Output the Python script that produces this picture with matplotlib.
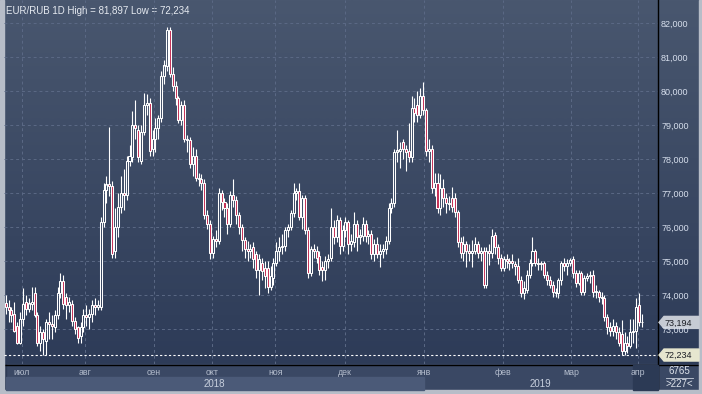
import numpy as np
import matplotlib
matplotlib.use("Agg")
import matplotlib.pyplot as plt
from matplotlib.patches import Rectangle, Polygon
from matplotlib.colors import LinearSegmentedColormap
import matplotlib.transforms as mtransforms

plt.rcParams['font.family'] = ['Liberation Sans', 'DejaVu Sans']

# ---- данные: дневные свечи EUR/RUB (июль 2018 - апрель 2019), по картинке ----
opens = [73.75, 73.65, 73.55, 73.45, 73.1, 72.6, 73.3, 73.8, 73.6, 73.75,
         74.05, 73.4, 72.6, 72.9, 72.65, 73.2, 73.15, 73.05, 73.4, 74.05,
         74.4, 73.95, 73.7, 73.75, 73.25, 73.05, 72.8, 73.05, 73.4, 73.35,
         73.45, 73.7, 73.65, 73.65, 76.15, 77.1, 77.25, 77.2, 75.3, 76.0,
         76.6, 77.0, 76.95, 77.95, 78.05, 79.0, 78.85, 77.95, 78.8, 79.6,
         79.65, 78.3, 78.6, 78.9, 79.2, 80.45, 80.75, 81.8, 80.5, 80.15,
         79.8, 79.15, 79.6, 78.6, 78.55, 77.85, 78.1, 77.45, 77.4, 77.3,
         76.35, 76.1, 75.25, 75.65, 75.6, 77.0, 76.75, 76.55, 76.1, 76.95,
         76.8, 76.35, 76.0, 75.62, 75.35, 75.3, 75.4, 75.2, 74.75, 74.95,
         74.8, 74.8, 74.25, 74.5, 74.95, 75.3, 75.4, 75.45, 75.9, 76.0,
         76.4, 77.0, 77.05, 76.3, 76.85, 75.9, 74.65, 75.35, 75.3, 75.15,
         74.82, 74.75, 75.0, 75.1, 76.0, 75.7, 76.2, 75.45, 75.9, 76.15,
         75.5, 75.55, 76.1, 75.7, 75.75, 76.1, 75.75, 75.8, 75.2, 75.5,
         75.2, 75.3, 75.35, 75.6, 76.55, 76.7, 78.2, 78.25, 78.5, 78.3,
         78.25, 78.05, 79.5, 79.6, 79.3, 79.85, 79.45, 78.25, 78.3, 77.15,
         77.3, 76.55, 77.15, 76.85, 76.7, 76.85, 76.85, 76.45, 75.55, 75.25,
         75.5, 75.3, 75.25, 75.3, 75.5, 75.25, 75.3, 74.3, 75.3, 75.25,
         75.75, 75.4, 75.1, 74.8, 75.05, 75.0, 75.0, 74.9, 74.85, 74.45,
         74.05, 74.15, 74.6, 74.95, 75.3, 74.95, 74.9, 74.95, 74.6, 74.45,
         74.3, 74.1, 74.05, 74.45, 74.95, 74.85, 74.95, 75.05, 74.65, 74.35,
         74.65, 74.1, 74.5, 74.55, 74.6, 74.1, 74.1, 73.95, 73.9, 73.35,
         73.05, 72.95, 73.1, 72.9, 72.85, 72.35, 72.6, 72.5, 72.9, 72.95,
         73.7, 73.2]
highs = [74.0, 73.85, 73.65, 73.8, 73.2, 73.5, 74.2, 74.0, 73.9, 74.25,
         74.25, 73.5, 73.1, 73.0, 73.3, 73.5, 73.4, 73.55, 74.25, 74.65,
         74.6, 74.05, 73.95, 73.85, 73.35, 73.1, 73.2, 73.6, 73.7, 73.6,
         73.85, 73.9, 73.85, 76.3, 77.3, 77.5, 78.95, 77.35, 76.55, 77.0,
         77.5, 77.7, 78.1, 78.4, 79.4, 79.75, 79.0, 79.0, 79.95, 79.9,
         79.8, 78.85, 79.2, 79.3, 80.6, 80.9, 81.897, 81.89, 80.7, 80.3,
         79.85, 79.7, 79.75, 78.7, 78.65, 78.35, 78.3, 77.6, 77.55, 77.4,
         76.5, 76.2, 75.75, 75.9, 77.15, 77.1, 76.85, 76.7, 77.05, 77.4,
         76.9, 76.45, 76.1, 75.7, 75.6, 75.5, 75.55, 75.3, 75.2, 75.1,
         75.0, 75.0, 74.85, 75.1, 75.55, 75.7, 75.8, 76.0, 76.1, 76.5,
         77.3, 77.15, 77.3, 76.95, 76.95, 76.0, 75.45, 75.5, 75.45, 75.3,
         75.0, 75.15, 75.2, 76.55, 76.2, 76.35, 76.3, 76.05, 76.3, 76.2,
         75.8, 76.45, 76.2, 75.95, 76.3, 76.2, 75.9, 75.9, 75.65, 75.7,
         75.5, 75.5, 75.75, 76.7, 76.85, 78.3, 78.85, 78.5, 78.6, 78.4,
         79.05, 79.85, 79.8, 80.0, 80.1, 80.26, 79.5, 78.6, 78.4, 77.6,
         77.6, 77.55, 77.4, 77.0, 76.9, 77.18, 77.0, 76.5, 75.7, 75.75,
         75.6, 75.5, 75.62, 75.7, 75.6, 75.4, 75.4, 75.4, 75.5, 75.95,
         75.85, 75.5, 75.2, 75.15, 75.2, 75.1, 75.2, 75.0, 75.1, 74.55,
         74.4, 74.75, 75.05, 75.7, 75.35, 75.1, 75.0, 75.0, 74.7, 74.55,
         74.4, 74.2, 74.5, 75.0, 75.1, 75.05, 75.1, 75.15, 74.75, 74.75,
         74.7, 74.6, 74.65, 74.7, 74.75, 74.3, 74.15, 74.1, 74.0, 73.45,
         73.2, 73.3, 73.2, 73.05, 73.26, 72.9, 72.8, 73.3, 73.3, 73.9,
         74.06, 73.45]
lows = [73.45, 73.2, 73.2, 72.9, 72.55, 72.55, 73.1, 73.4, 73.5, 73.55,
        73.35, 72.5, 72.35, 72.25, 72.234, 72.7, 72.7, 72.9, 73.3, 73.9,
        73.6, 73.3, 73.5, 73.1, 72.85, 72.6, 72.6, 72.9, 73.1, 73.0,
        73.2, 73.4, 73.55, 73.55, 76.0, 76.7, 76.9, 75.1, 75.1, 75.7,
        76.4, 76.5, 76.8, 77.8, 77.9, 78.6, 77.9, 77.85, 78.7, 79.3,
        78.1, 78.1, 78.2, 78.6, 79.1, 80.2, 80.6, 80.4, 80.0, 79.6,
        79.05, 79.0, 78.5, 78.2, 77.75, 77.5, 77.35, 77.2, 77.1, 76.25,
        75.95, 75.05, 75.1, 75.4, 75.5, 76.5, 76.3, 75.8, 76.0, 76.6,
        76.1, 75.8, 75.3, 75.1, 75.0, 75.1, 74.8, 74.5, 74.0, 74.45,
        74.2, 74.05, 74.15, 74.3, 74.85, 75.0, 75.2, 75.3, 75.7, 75.9,
        76.3, 76.8, 76.2, 75.95, 75.8, 74.5, 74.55, 75.1, 74.95, 74.6,
        74.4, 74.45, 74.8, 75.0, 75.5, 75.55, 75.2, 75.3, 75.7, 75.2,
        75.3, 75.4, 75.3, 75.5, 75.6, 75.55, 75.5, 75.05, 75.0, 75.1,
        74.82, 75.1, 75.2, 75.5, 76.4, 76.6, 77.9, 77.75, 78.0, 77.65,
        77.9, 77.9, 79.1, 79.1, 79.2, 79.3, 78.1, 77.9, 77.0, 76.9,
        76.4, 76.35, 76.6, 76.4, 76.5, 76.45, 76.3, 75.4, 75.1, 75.0,
        74.82, 75.0, 74.82, 75.2, 75.1, 75.0, 74.2, 74.2, 74.88, 75.1,
        75.2, 74.9, 74.7, 74.7, 74.8, 74.75, 74.8, 74.6, 74.35, 73.95,
        73.88, 74.05, 74.5, 74.85, 74.85, 74.75, 74.75, 74.5, 74.3, 74.2,
        73.95, 73.95, 73.9, 74.3, 74.7, 74.6, 74.85, 74.5, 74.25, 74.3,
        74.0, 74.0, 74.4, 74.35, 73.95, 73.9, 73.8, 73.75, 73.25, 72.85,
        72.8, 72.8, 72.7, 72.5, 72.23, 72.25, 72.3, 72.45, 72.6, 72.44,
        73.1, 73.05]
closes = [73.65, 73.55, 73.4, 72.95, 72.6, 73.3, 73.75, 73.6, 73.75, 73.8,
          73.4, 72.6, 72.9, 72.7, 73.2, 73.15, 73.1, 73.4, 74.05, 74.4,
          73.75, 73.7, 73.8, 73.25, 73.0, 72.75, 73.05, 73.4, 73.35, 73.45,
          73.7, 73.65, 73.7, 76.15, 77.1, 77.25, 77.2, 75.2, 76.0, 76.6,
          77.0, 76.95, 77.95, 78.1, 79.0, 78.9, 78.05, 78.8, 79.6, 79.65,
          78.25, 78.6, 78.9, 79.2, 80.45, 80.75, 81.8, 80.5, 80.15, 79.8,
          79.15, 79.6, 78.6, 78.55, 77.85, 78.1, 77.45, 77.4, 77.3, 76.35,
          76.1, 75.25, 75.65, 75.6, 77.0, 76.75, 76.55, 76.1, 76.95, 76.8,
          76.35, 76.0, 75.62, 75.35, 75.3, 75.35, 75.05, 74.75, 75.05, 74.7,
          74.55, 74.25, 74.55, 74.95, 75.3, 75.4, 75.45, 75.9, 76.0, 76.4,
          77.0, 77.05, 76.3, 76.85, 75.9, 74.65, 75.35, 75.3, 75.1, 74.75,
          74.74, 75.0, 75.05, 76.0, 75.7, 76.2, 75.45, 75.9, 76.15, 75.5,
          75.6, 76.1, 75.7, 75.75, 76.1, 75.75, 75.8, 75.2, 75.5, 75.2,
          75.3, 75.35, 75.6, 76.55, 76.7, 78.2, 78.25, 78.3, 78.3, 78.2,
          78.05, 79.5, 79.35, 79.3, 79.85, 79.45, 78.25, 78.3, 77.15, 77.3,
          76.55, 77.15, 76.85, 76.7, 76.68, 76.6, 76.45, 75.55, 75.25, 75.5,
          75.3, 75.25, 75.3, 75.5, 75.25, 75.3, 74.3, 75.3, 75.25, 75.75,
          75.4, 75.1, 74.8, 75.05, 75.0, 74.95, 74.93, 74.85, 74.45, 74.05,
          74.2, 74.6, 74.95, 75.3, 74.95, 74.9, 74.95, 74.6, 74.45, 74.3,
          74.1, 74.05, 74.45, 74.95, 74.85, 74.95, 75.03, 74.65, 74.35, 74.65,
          74.1, 74.5, 74.55, 74.6, 74.1, 74.1, 73.95, 73.9, 73.35, 73.05,
          72.95, 73.1, 72.9, 72.6, 72.35, 72.6, 72.5, 72.9, 72.95, 73.65,
          73.2, 73.194]

month_labels = ['июл', 'авг', 'сен', 'окт', 'ноя', 'дек', 'янв', 'фев', 'мар', 'апр']
month_pos = [5.5, 27.7, 51.4, 71.6, 93.6, 117.8, 145.2, 172.7, 196.5, 219.6]
year_labels = ['2018', '2019']
price_ticks = [73, 74, 75, 76, 77, 78, 79, 80, 81, 82]
period_high = 81.897
period_low = 72.234
last_price = 73.194
bars_shown = 227
counter_text = '6765'

W, H = 702, 394


def fmt(v):
    return f"{v:.3f}".replace('.', ',')


fig = plt.figure(figsize=(W / 100, H / 100), dpi=100)

# фон в пикселях всей картинки
bg = fig.add_axes([0, 0, 1, 1])
bg.set_xlim(0, W)
bg.set_ylim(H, 0)
bg.axis('off')
cmap = LinearSegmentedColormap.from_list('bg', ['#49576f', '#2b3956'])
bg.imshow(np.linspace(0, 1, 256).reshape(-1, 1), cmap=cmap, aspect='auto',
          extent=[0, W, H, 0], zorder=0)
# нижняя полоса времени
bg.add_patch(Rectangle((4, 364), W - 6, 26, color='#3a4864', zorder=1))
bg.add_patch(Rectangle((4, 364), 2, 26, color='#2e3b55', zorder=1))
# светлая рамка
frame = '#b7bdc8'
bg.add_patch(Rectangle((0, 0), 4, H, color=frame, zorder=5))
bg.add_patch(Rectangle((0, 390), W, 4, color=frame, zorder=5))
bg.add_patch(Rectangle((699, 0), 3, H, color=frame, zorder=5))
# разделители
bg.plot([658, 658], [0, 390], color='black', lw=1.0, zorder=4)
bg.plot([4, 699], [364.5, 364.5], color='black', lw=1.0, zorder=4)

# ---- основной график ----
ax = fig.add_axes([4 / W, 30 / H, 654 / W, 364 / H])
ax.set_facecolor('none')
for s in ax.spines.values():
    s.set_visible(False)
ax.set_xlim(-0.6, 226.6)
ax.set_ylim(82 - 341 / 34, 82 + 23 / 34)

ax.set_yticks(price_ticks)
ax.set_yticklabels([fmt(v) for v in price_ticks])
ax.yaxis.tick_right()
ax.tick_params(axis='y', length=0, pad=2.2, labelsize=6.5, labelcolor='#d6deec')
ax.set_xticks(month_pos)
ax.set_xticklabels(month_labels)
ax.tick_params(axis='x', length=0, pad=2.6, labelsize=6.3, labelcolor='#b4bdcd')
ax.grid(True, color='#5b6985', linestyle=(0, (3, 3)), linewidth=0.7)
ax.set_axisbelow(True)

o = np.array(opens)
h = np.array(highs)
l = np.array(lows)
c = np.array(closes)
x = np.arange(len(c))
up = c >= o
lo_b = np.minimum(o, c)
hi_b = np.maximum(o, c)
red = '#c42e55'

ax.vlines(x, l, lo_b, color='white', lw=0.8, zorder=3)
ax.vlines(x, hi_b, h, color='white', lw=0.8, zorder=3)
ax.bar(x, np.maximum(hi_b - lo_b, 0.015), bottom=lo_b, width=0.7,
       color=[(0, 0, 0, 0) if u else red for u in up],
       edgecolor='white', linewidth=0.75, zorder=4)

ax.axhline(period_low, color='white', lw=0.8, linestyle=(0, (2, 2)), zorder=5)

# годовые полосы и подписи под месяцами
blend = mtransforms.blended_transform_factory(ax.transData, ax.transAxes)
jan = month_pos[6]
x0, x1 = ax.get_xlim()
ax.add_patch(Rectangle((x0 + 0.7, -0.0714), jan - x0 - 0.7, 0.0357, transform=blend,
                       color='#4b5a78', clip_on=False, zorder=0.2))
ax.text((x0 + jan) / 2, -0.054, year_labels[0], transform=blend, ha='center',
        va='center', fontsize=7, color='#c8d0de')
ax.text((jan + x1) / 2, -0.054, year_labels[1], transform=blend, ha='center',
        va='center', fontsize=7, color='#c8d0de')
# текущий месяц
ax.add_patch(Rectangle((month_pos[-1] - 1.6, -0.0714), x1 - month_pos[-1] + 1.6, 0.0685,
                       transform=blend, color='#2c3a55', clip_on=False, zorder=0.2))

ax.text(0.99, period_low + 0.03, '5', transform=blend, ha='right', va='bottom',
        fontsize=7.5, color='#e6e9ef')

# ярлыки цены справа
fig.canvas.draw()


def to_bg(price):
    px = ax.transData.transform((0, price))
    return bg.transData.inverted().transform(px)[1]


def tag(price, face):
    yc = to_bg(price)
    bg.add_patch(Polygon([(659, yc), (664, yc - 6), (699, yc - 6), (699, yc + 6),
                          (664, yc + 6)], closed=True, color=face, zorder=6))
    bg.text(665, yc + 0.5, fmt(price), ha='left', va='center', fontsize=6.5,
            color='#1c1f26', zorder=7)


tag(last_price, '#c6cbd4')
tag(period_low, '#e6e6cf')

bg.text(6, 11, f"EUR/RUB 1D High = {fmt(period_high)} Low = {fmt(period_low)}",
        ha='left', va='center', fontsize=7, color='#e6eaf1', zorder=7)

bg.text(679, 371, counter_text, ha='center', va='center', fontsize=7,
        color='#dfe4ec', zorder=7)
bg.plot([666, 693], [377.5, 377.5], color='#c9d0dc', lw=0.6, zorder=7)
bg.text(679, 384, f">{bars_shown}<", ha='center', va='center', fontsize=7,
        color='#dfe4ec', zorder=7)

fig.savefig('out.png', dpi=100)
